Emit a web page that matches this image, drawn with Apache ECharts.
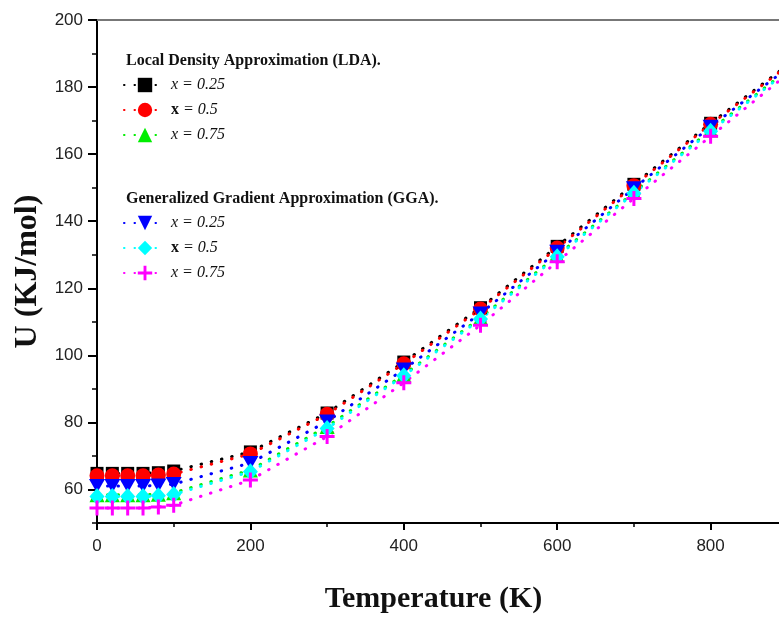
<!DOCTYPE html>
<html><head><meta charset="utf-8">
<script src="https://cdn.jsdelivr.net/npm/echarts@6/dist/echarts.min.js"></script>
<style>html,body{margin:0;padding:0;background:#fff}#c{width:779px;height:617px}</style>
</head><body><div id="c"></div>
<script>
// Temperature (K); last point (900 K) only continues the dotted line, no marker
const temps = [0, 20, 40, 60, 80, 100, 200, 300, 400, 500, 600, 700, 800, 900];
// LDA
const ldaX025 = [64.8, 64.8, 64.8, 64.8, 65.0, 65.5, 71.2, 82.8, 98.0, 114.2, 132.5, 151.0, 169.2, 186.5];
const ldaX050 = [64.1, 64.1, 64.1, 64.1, 64.3, 64.6, 70.6, 82.4, 97.5, 113.8, 132.0, 150.6, 168.9, 186.2];
const ldaX075 = [58.4, 58.4, 58.4, 58.4, 58.6, 59.0, 65.8, 78.8, 94.2, 111.2, 129.8, 148.6, 167.2, 185.0];
// GGA
const ggaX025 = [61.0, 61.0, 61.0, 61.0, 61.2, 61.6, 67.9, 80.3, 95.8, 112.5, 130.9, 149.8, 168.2, 185.6];
const ggaX050 = [57.9, 57.9, 57.9, 57.9, 58.1, 58.5, 65.3, 78.2, 93.9, 110.8, 129.4, 148.3, 166.8, 184.7];
const ggaX075 = [54.5, 54.5, 54.5, 54.5, 54.8, 55.3, 62.8, 75.8, 91.8, 109.0, 127.9, 146.8, 165.3, 183.8];
// tick labels
const yLabelValues = [60, 80, 100, 120, 140, 160, 180, 200];
const xLabelValues = [0, 200, 400, 600, 800];

const ldaNames = ['LDA x = 0.25', 'LDA x = 0.5', 'LDA x = 0.75'];
const ggaNames = ['GGA x = 0.25', 'GGA x = 0.5', 'GGA x = 0.75'];
const legendText = {
  'LDA x = 0.25': '{i|x = 0.25}',
  'LDA x = 0.5': '{b|x}{i| = 0.5}',
  'LDA x = 0.75': '{i|x = 0.75}',
  'GGA x = 0.25': '{i|x = 0.25}',
  'GGA x = 0.5': '{b|x}{i| = 0.5}',
  'GGA x = 0.75': '{i|x = 0.75}'
};

const plusPath = 'path://M4,0H6V4H10V6H6V10H4V6H0V4H4Z';

function mk(name, vals, color, symbol, size, rotate) {
  return {
    name: name, type: 'line',
    data: temps.map((t, i) => i === temps.length - 1 ? {value: [t, vals[i]], symbol: 'none'} : [t, vals[i]]),
    symbol: symbol, symbolSize: size, symbolRotate: rotate || 0,
    showAllSymbol: true,
    itemStyle: {color: color, opacity: 1},
    lineStyle: {color: color, width: 3, type: [0.5, 10], cap: 'round'},
    emphasis: {disabled: true},
    z: 3
  };
}

const serif = 'Liberation Serif';
const legendTextStyle = {
  fontFamily: serif, fontSize: 16, fontStyle: 'italic', color: '#111',
  rich: {
    i: {fontFamily: serif, fontSize: 16, fontStyle: 'italic', color: '#111'},
    b: {fontFamily: serif, fontSize: 16, fontWeight: 'bold', fontStyle: 'normal', color: '#111'}
  }
};

const chart = echarts.init(document.getElementById('c'), null, {renderer: 'canvas'});
chart.setOption({
  animation: false,
  backgroundColor: '#fff',
  title: [
    {text: 'Local Density Approximation (LDA).', left: 121, top: 48,
     textStyle: {fontFamily: serif, fontWeight: 'bold', fontSize: 16, color: '#111'}},
    {text: 'Generalized Gradient Approximation (GGA).', left: 121, top: 186,
     textStyle: {fontFamily: serif, fontWeight: 'bold', fontSize: 16, color: '#111'}}
  ],
  legend: [
    {data: ldaNames, orient: 'vertical', left: 118, top: 72, itemWidth: 42, itemHeight: 18, itemGap: 9,
     formatter: n => legendText[n], textStyle: legendTextStyle, selectedMode: false},
    {data: ggaNames, orient: 'vertical', left: 118, top: 210, itemWidth: 42, itemHeight: 18, itemGap: 9,
     formatter: n => legendText[n], textStyle: legendTextStyle, selectedMode: false}
  ],
  grid: {left: 97, top: 20, width: 767, height: 503, containLabel: false, outerBoundsMode: 'none'},
  xAxis: [
    {type: 'value', min: 0, max: 1000, interval: 200, position: 'bottom',
     name: 'Temperature (K)', nameLocation: 'middle', nameGap: 61,
     nameTextStyle: {fontFamily: serif, fontWeight: 'bold', fontSize: 30, color: '#111', padding: [0, 94, 0, 0]},
     axisLine: {onZero: false, lineStyle: {color: '#000', width: 2}},
     axisTick: {show: true, inside: false, length: 7, lineStyle: {color: '#000', width: 2}},
     minorTick: {show: true, splitNumber: 2, length: 4, lineStyle: {color: '#000', width: 1.5}},
     axisLabel: {customValues: xLabelValues, margin: 15, fontFamily: 'Liberation Sans', fontSize: 17, color: '#222'},
     splitLine: {show: false}},
    {type: 'value', min: 0, max: 1000, position: 'top',
     axisLine: {onZero: false, lineStyle: {color: '#777', width: 2}},
     axisTick: {show: false}, axisLabel: {show: false}, splitLine: {show: false}}
  ],
  yAxis: [
    {type: 'value', min: 50, max: 200, interval: 10, position: 'left',
     name: 'U (KJ/mol)', nameLocation: 'middle', nameGap: 50, nameRotate: 90,
     nameTextStyle: {fontFamily: serif, fontWeight: 'bold', fontSize: 32, color: '#111'},
     axisLine: {onZero: false, lineStyle: {color: '#000', width: 2}},
     axisTick: {show: true, length: 5, lineStyle: {color: '#000', width: 1.5}},
     axisLabel: {customValues: yLabelValues, margin: 14, fontFamily: 'Liberation Sans', fontSize: 17, color: '#222'},
     splitLine: {show: false}},
    {type: 'value', min: 50, max: 200, position: 'left',
     axisLine: {show: false},
     axisTick: {show: true, customValues: yLabelValues, length: 9, lineStyle: {color: '#000', width: 2}},
     axisLabel: {show: false}, splitLine: {show: false}}
  ],
  series: [
    mk(ldaNames[0], ldaX025, '#000000', 'rect', 13),
    mk(ldaNames[1], ldaX050, '#ff0000', 'circle', 15),
    mk(ldaNames[2], ldaX075, '#00ee00', 'triangle', 15),
    mk(ggaNames[0], ggaX025, '#0000ff', 'triangle', [16, 14], 180),
    mk(ggaNames[1], ggaX050, '#00ffff', 'diamond', [15, 17]),
    mk(ggaNames[2], ggaX075, '#ff00ff', plusPath, 15)
  ]
});
</script>
</body></html>
